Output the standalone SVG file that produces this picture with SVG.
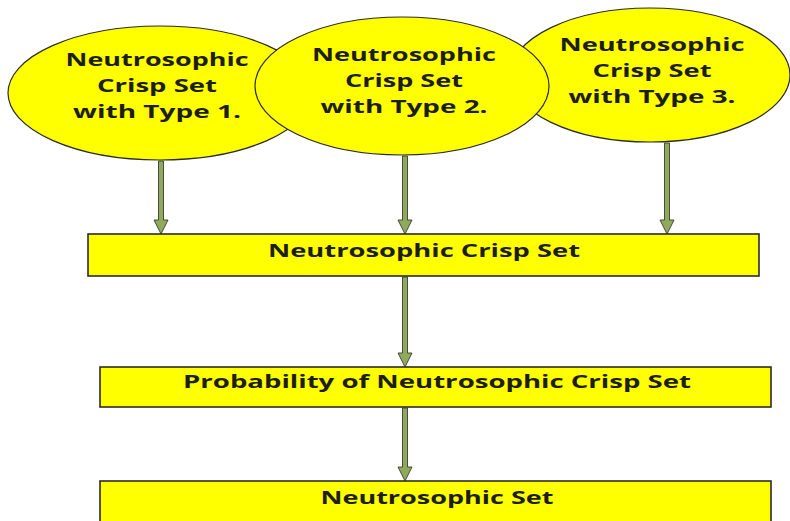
<svg xmlns="http://www.w3.org/2000/svg" width="790" height="521" viewBox="0 0 790 521">
<style>
.node{fill:#ffff00;stroke:#2b2b2b;stroke-width:1.2}
.box{fill:#ffff00;stroke:#2b2b2b;stroke-width:1.6}
.t{font-family:"Open Sans","Liberation Sans",Arial,sans-serif;font-weight:bold;font-size:18px;fill:#1e1e10;text-anchor:middle}
.arrow{fill:#8fab5a;stroke:#3a3a3a;stroke-width:0.9}
</style>
<rect width="790" height="521" fill="#ffffff"/>
<g id="type1">
<ellipse class="node" cx="160" cy="93" rx="152" ry="67"/>
<text class="t" x="157" y="66" textLength="183" lengthAdjust="spacingAndGlyphs">Neutrosophic</text>
<text class="t" x="157" y="92" textLength="120" lengthAdjust="spacingAndGlyphs">Crisp Set</text>
<text class="t" x="157" y="118" textLength="168" lengthAdjust="spacingAndGlyphs">with Type 1.</text>
</g>
<g id="type3">
<ellipse class="node" cx="650" cy="75" rx="140" ry="67"/>
<text class="t" x="652" y="51" textLength="185" lengthAdjust="spacingAndGlyphs">Neutrosophic</text>
<text class="t" x="652" y="77" textLength="119" lengthAdjust="spacingAndGlyphs">Crisp Set</text>
<text class="t" x="652" y="103" textLength="167" lengthAdjust="spacingAndGlyphs">with Type 3.</text>
</g>
<g id="type2">
<ellipse class="node" cx="402" cy="86" rx="147" ry="69"/>
<text class="t" x="404" y="61" textLength="184" lengthAdjust="spacingAndGlyphs">Neutrosophic</text>
<text class="t" x="404" y="87" textLength="118" lengthAdjust="spacingAndGlyphs">Crisp Set</text>
<text class="t" x="404" y="113" textLength="167" lengthAdjust="spacingAndGlyphs">with Type 2.</text>
</g>
<g id="connectors">
<path class="arrow" d="M158.5,161 L163.5,161 L163.5,220 L168,220 L161,234 L154,220 L158.5,220 Z"/>
<path class="arrow" d="M402.5,156 L407.5,156 L407.5,220 L412,220 L405,234 L398,220 L402.5,220 Z"/>
<path class="arrow" d="M664.5,143 L669.5,143 L669.5,220 L674,220 L667,234 L660,220 L664.5,220 Z"/>
<path class="arrow" d="M402.5,277 L407.5,277 L407.5,353 L412,353 L405,367 L398,353 L402.5,353 Z"/>
<path class="arrow" d="M402.5,408 L407.5,408 L407.5,467 L412,467 L405,481 L398,467 L402.5,467 Z"/>
</g>
<g id="crisp">
<rect class="box" x="88" y="234" width="671" height="42"/>
<text class="t" x="424" y="257" textLength="312" lengthAdjust="spacingAndGlyphs">Neutrosophic Crisp Set</text>
</g>
<g id="probability">
<rect class="box" x="100" y="367" width="671" height="40"/>
<text class="t" x="437" y="388" textLength="508" lengthAdjust="spacingAndGlyphs">Probability of Neutrosophic Crisp Set</text>
</g>
<g id="neutrosophic-set">
<rect class="box" x="100" y="481" width="671" height="44"/>
<text class="t" x="437" y="504" textLength="233" lengthAdjust="spacingAndGlyphs">Neutrosophic Set</text>
</g>
</svg>
